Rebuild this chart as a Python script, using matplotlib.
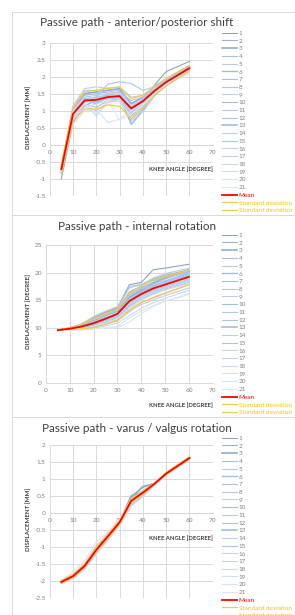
import matplotlib
matplotlib.use("Agg")
import matplotlib.pyplot as plt
from matplotlib.lines import Line2D
from matplotlib.ticker import FormatStrFormatter
import numpy as np

plt.rcParams["font.family"] = ["Lato", "DejaVu Sans"]
plt.rcParams["axes.unicode_minus"] = False

W, H = 295, 615

angles = [5, 10, 15, 20, 25, 30, 35, 40, 45, 50, 60]
series_names = [str(i) for i in range(1, 22)]

# anterior/posterior shift [mm]
ap_series = [
    [-1.0, 0.65, 1.15, 1.3, 1.35, 1.45, 1.0, 1.3, 1.75, 2.15, 2.45],
    [-0.8, 0.95, 1.35, 1.25, 1.4, 1.5, 1.05, 1.35, 1.65, 1.9, 2.3],
    [-0.7, 1.05, 1.5, 1.55, 1.6, 1.65, 1.2, 1.4, 1.6, 1.85, 2.3],
    [-0.75, 0.85, 1.2, 1.1, 1.3, 1.35, 0.95, 1.2, 1.55, 1.8, 2.2],
    [-0.65, 1.1, 1.6, 1.6, 1.5, 1.55, 1.3, 1.4, 1.6, 1.85, 2.25],
    [-0.8, 0.9, 1.25, 1.35, 1.45, 1.4, 0.85, 1.15, 1.5, 1.8, 2.2],
    [-0.7, 1.0, 1.45, 1.5, 1.55, 1.6, 1.1, 1.3, 1.6, 1.9, 2.3],
    [-0.85, 0.8, 1.15, 1.0, 1.25, 1.3, 0.7, 1.05, 1.5, 1.8, 2.2],
    [-0.6, 1.15, 1.65, 1.7, 1.65, 1.7, 1.4, 1.45, 1.65, 1.9, 2.3],
    [-0.75, 0.9, 1.3, 1.4, 1.45, 1.5, 1.05, 1.25, 1.55, 1.85, 2.25],
    [-0.7, 0.95, 1.4, 1.45, 1.5, 1.55, 1.15, 1.35, 1.6, 1.85, 2.25],
    [-0.8, 0.85, 1.25, 1.3, 1.35, 1.4, 0.95, 1.2, 1.5, 1.8, 2.2],
    [-0.65, 1.0, 1.35, 1.2, 1.4, 1.45, 0.6, 1.0, 1.45, 1.75, 2.2],
    [-0.75, 0.9, 1.3, 1.35, 1.5, 1.55, 1.1, 1.3, 1.6, 1.85, 2.25],
    [-0.7, 0.95, 1.35, 1.4, 1.78, 1.85, 1.8, 1.6, 1.7, 1.9, 2.3],
    [-0.8, 0.8, 1.2, 0.85, 1.25, 1.3, 1.0, 0.95, 1.45, 1.75, 2.15],
    [-0.72, 0.9, 1.25, 1.3, 1.35, 1.35, 0.9, 1.15, 1.5, 1.8, 2.2],
    [-0.68, 1.0, 1.4, 1.35, 1.4, 1.5, 1.15, 1.3, 1.55, 1.8, 2.2],
    [-0.78, 0.75, 1.1, 1.2, 1.3, 1.3, 0.8, 1.1, 1.45, 1.75, 2.15],
    [-0.7, 0.6, 1.0, 1.05, 0.65, 0.75, 1.0, 1.2, 1.5, 1.75, 2.1],
    [-0.75, 0.85, 1.2, 0.9, 1.3, 0.72, 0.9, 1.15, 1.5, 1.78, 2.15],
]
ap_mean = [-0.72, 0.9, 1.3, 1.32, 1.4, 1.43, 1.07, 1.28, 1.58, 1.84, 2.25]
ap_sd_hi = [-0.6, 1.08, 1.55, 1.6, 1.66, 1.7, 1.36, 1.45, 1.72, 1.95, 2.33]
ap_sd_lo = [-0.85, 0.7, 1.05, 1.05, 1.17, 1.13, 0.76, 1.1, 1.45, 1.73, 2.17]

# internal rotation [degree]
ir_series = [
    [9.5, 10.0, 10.6, 11.8, 12.8, 13.6, 17.8, 18.2, 20.5, 20.8, 21.5],
    [9.5, 9.9, 10.5, 11.5, 12.4, 13.2, 16.5, 17.5, 18.8, 19.5, 20.5],
    [9.5, 9.9, 10.4, 11.3, 12.2, 13.0, 15.5, 16.8, 18.0, 19.0, 20.2],
    [9.5, 9.8, 10.3, 11.0, 11.8, 12.6, 15.0, 16.5, 17.5, 18.5, 19.8],
    [9.5, 10.0, 10.7, 12.0, 13.0, 13.8, 17.2, 17.8, 19.0, 19.8, 20.8],
    [9.5, 9.9, 10.5, 11.6, 12.5, 13.4, 16.0, 17.2, 18.2, 19.2, 20.5],
    [9.5, 9.8, 10.2, 10.8, 11.6, 12.4, 14.8, 16.2, 17.4, 18.4, 20.0],
    [9.5, 9.9, 10.4, 11.4, 12.3, 13.1, 15.8, 17.0, 17.8, 18.8, 20.3],
    [9.5, 9.7, 10.0, 10.5, 11.2, 12.0, 14.0, 15.5, 16.5, 17.2, 18.5],
    [9.5, 9.8, 10.3, 11.0, 11.8, 12.6, 15.2, 16.6, 17.6, 18.3, 19.6],
    [9.5, 9.7, 10.1, 10.6, 11.3, 12.1, 14.2, 15.8, 16.8, 17.5, 18.8],
    [9.5, 9.9, 10.5, 11.5, 12.5, 13.3, 17.5, 17.8, 18.5, 19.2, 20.0],
    [9.5, 9.8, 10.2, 10.9, 11.7, 12.5, 14.6, 16.0, 17.2, 18.0, 19.4],
    [9.5, 9.6, 9.8, 10.2, 10.8, 11.4, 13.0, 14.2, 15.0, 15.8, 17.2],
    [9.5, 9.7, 10.0, 10.4, 11.0, 11.8, 13.8, 15.2, 16.2, 17.0, 18.2],
    [9.5, 9.6, 9.8, 10.1, 10.6, 11.2, 12.8, 14.5, 15.5, 16.3, 17.8],
    [9.5, 9.7, 10.1, 10.7, 11.4, 12.2, 14.5, 15.6, 16.6, 17.4, 18.6],
    [9.5, 9.6, 9.7, 9.9, 10.3, 10.8, 12.2, 13.5, 14.5, 15.3, 16.8],
    [9.5, 9.6, 9.8, 10.2, 10.9, 11.6, 13.5, 15.0, 16.0, 16.8, 18.0],
    [9.5, 9.5, 9.6, 9.7, 10.0, 10.2, 11.8, 13.0, 14.0, 14.8, 16.0],
    [9.5, 9.6, 9.7, 9.8, 9.9, 10.0, 11.0, 12.5, 13.8, 14.8, 16.2],
]
ir_mean = [9.55, 9.8, 10.2, 10.8, 11.6, 12.5, 14.8, 16.1, 17.1, 17.8, 19.2]
ir_sd_hi = [9.55, 9.95, 10.6, 11.6, 12.5, 13.4, 16.2, 17.6, 18.6, 19.3, 20.4]
ir_sd_lo = [9.55, 9.65, 9.8, 10.0, 10.6, 11.3, 13.2, 14.6, 15.4, 16.2, 17.8]

# varus / valgus rotation [mm]
vv_series = [
    [-2.0, -1.82, -1.52, -1.05, -0.66, -0.25, 0.52, 0.62, 0.86, 1.15, 1.6],
    [-2.02, -1.85, -1.55, -1.1, -0.7, -0.28, 0.5, 0.75, 0.88, 1.16, 1.62],
    [-2.03, -1.86, -1.56, -1.08, -0.68, -0.26, 0.45, 0.78, 0.87, 1.17, 1.61],
    [-2.01, -1.84, -1.54, -1.06, -0.67, -0.27, 0.4, 0.6, 0.85, 1.15, 1.62],
    [-2.04, -1.88, -1.58, -1.12, -0.72, -0.3, 0.35, 0.58, 0.85, 1.14, 1.6],
    [-2.0, -1.83, -1.53, -1.04, -0.65, -0.24, 0.42, 0.65, 0.87, 1.16, 1.63],
    [-2.02, -1.86, -1.57, -1.1, -0.7, -0.29, 0.38, 0.62, 0.86, 1.16, 1.62],
    [-2.05, -1.9, -1.6, -1.15, -0.75, -0.33, 0.3, 0.55, 0.84, 1.13, 1.58],
    [-2.01, -1.84, -1.55, -1.07, -0.68, -0.27, 0.36, 0.6, 0.86, 1.16, 1.62],
    [-2.03, -1.87, -1.58, -1.12, -0.71, -0.3, 0.33, 0.58, 0.85, 1.15, 1.61],
    [-2.0, -1.82, -1.5, -1.0, -0.62, -0.22, 0.4, 0.65, 0.88, 1.18, 1.64],
    [-2.04, -1.88, -1.6, -1.14, -0.74, -0.32, 0.28, 0.54, 0.84, 1.14, 1.6],
    [-2.02, -1.85, -1.55, -1.08, -0.68, -0.26, 0.35, 0.6, 0.86, 1.16, 1.62],
    [-2.03, -1.86, -1.56, -1.1, -0.7, -0.28, 0.32, 0.57, 0.85, 1.15, 1.61],
    [-2.05, -1.9, -1.62, -1.18, -0.78, -0.35, 0.22, 0.5, 0.83, 1.13, 1.59],
    [-2.0, -1.8, -1.48, -0.95, -0.6, -0.2, 0.38, 0.62, 0.87, 1.17, 1.63],
    [-2.04, -1.89, -1.6, -1.15, -0.75, -0.34, 0.25, 0.52, 0.84, 1.14, 1.6],
    [-2.02, -1.84, -1.54, -1.06, -0.67, -0.26, 0.36, 0.6, 0.86, 1.16, 1.62],
    [-2.06, -1.92, -1.64, -1.2, -0.8, -0.36, 0.2, 0.48, 0.82, 1.12, 1.58],
    [-1.98, -1.72, -1.4, -0.85, -0.55, -0.18, 0.4, 0.64, 0.88, 1.18, 1.64],
    [-2.03, -1.86, -1.57, -1.1, -0.7, -0.28, 0.3, 0.56, 0.85, 1.15, 1.61],
]
vv_mean = [-2.02, -1.85, -1.55, -1.08, -0.68, -0.27, 0.36, 0.6, 0.86, 1.16, 1.62]
vv_sd_hi = [-1.98, -1.8, -1.5, -1.0, -0.62, -0.22, 0.42, 0.66, 0.88, 1.19, 1.65]
vv_sd_lo = [-2.06, -1.9, -1.6, -1.14, -0.74, -0.32, 0.3, 0.55, 0.84, 1.13, 1.59]

# blue shades of the individual series (1 .. 21)
blues = ["#8ea5c2", "#9db3cd", "#8badd5", "#a9c0da", "#b6cbe3", "#9fbde0",
         "#a7c3e2", "#b0c8e3", "#bcd1e9", "#a3c0e0", "#b4cce8", "#aac6e6",
         "#9dc0e6", "#b8d0ea", "#a8c6e7", "#c3d6ec", "#bcd2eb", "#c8daee",
         "#cfe0f1", "#d6e4f3", "#dde8f5"]
widths = [0.8, 0.8, 1.2, 0.8, 0.8, 1.0, 0.8, 0.8, 0.8, 0.8, 0.8, 0.8, 1.2,
          0.8, 0.8, 0.8, 0.8, 0.8, 0.8, 0.8, 0.8]

fig = plt.figure(figsize=(W / 100, H / 100), dpi=100)


def fx(px):
    return px / W


def fy(py):
    return 1 - py / H


def panel(top_box, title, ax_box, ylim, ystep, ylabel, series, mean, hi, lo,
          xlab_y, legend_top):
    l, t, r, b = ax_box
    ax = fig.add_axes([fx(l), fy(b), fx(r) - fx(l), fy(t) - fy(b)])
    handles = []
    for s, c, w in zip(series, blues, widths):
        h, = ax.plot(angles, s, color=c, lw=w)
        handles.append(h)
    h_mean, = ax.plot(angles, mean, color="#ff0000", lw=1.3, zorder=5)
    h_hi, = ax.plot(angles, hi, color="#f2c84b", lw=0.9, zorder=4)
    h_lo, = ax.plot(angles, lo, color="#f2c84b", lw=0.9, zorder=4)
    handles += [h_mean, h_hi, h_lo]
    labels = series_names + ["Mean", "Standard deviation", "Standard deviation"]

    ax.set_xlim(0, 70)
    ax.set_ylim(*ylim)
    ax.set_xticks(range(0, 71, 10))
    ax.set_yticks(np.arange(ylim[0], ylim[1] + 0.001, ystep))
    ax.yaxis.set_major_formatter(FormatStrFormatter("%g"))
    ax.grid(True, color="#d9d9d9", lw=0.7)
    ax.set_axisbelow(True)
    for side in ["top", "right", "left"]:
        ax.spines[side].set_visible(False)
    ax.spines["bottom"].set_position(("data", 0))
    ax.spines["bottom"].set_color("#d9d9d9")
    ax.spines["bottom"].set_linewidth(0.7)
    ax.tick_params(length=0, labelsize=4.6, colors="#7f7f7f")
    ax.tick_params(axis="x", pad=3.5)
    ax.tick_params(axis="y", pad=3)

    fig.text(fx(137), fy(top_box + 11), title, ha="center", va="center",
             fontsize=8.4, color="#404040")
    fig.text(fx(28), fy((t + b) / 2 - 2), ylabel, rotation=90, ha="center",
             va="center", fontsize=4.4, fontweight="bold", color="#404040")
    fig.text(fx(r), fy(xlab_y), "KNEE ANGLE [DEGREE]", ha="right",
             va="center", fontsize=4.2, fontweight="bold", color="#404040")

    leg = ax.legend(handles, labels, loc="upper left",
                    bbox_to_anchor=(fx(222), fy(legend_top)),
                    bbox_transform=fig.transFigure, frameon=False,
                    fontsize=4.6, handlelength=2.3, handletextpad=0.3,
                    labelspacing=0.35, borderpad=0, borderaxespad=0)
    for txt, lab in zip(leg.get_texts(), labels):
        if lab == "Mean":
            txt.set_color("#ff0000")
        elif lab.startswith("Standard"):
            txt.set_color("#ffc000")
        else:
            txt.set_color("#7f7f7f")

    # chart area border
    fig.add_artist(Line2D([fx(12), 1], [fy(top_box), fy(top_box)],
                          transform=fig.transFigure, color="#d9d9d9", lw=0.7))
    return ax


panel(12, "Passive path - anterior/posterior shift",
      (49.7, 42.7, 212.7, 195.7), (-1.5, 3), 0.5, "DISPLACEMENT [MM]",
      ap_series, ap_mean, ap_sd_hi, ap_sd_lo, 169, 30.5)
panel(215, "Passive path - internal rotation",
      (46, 245, 212.7, 382.7), (0, 25), 5, "DISPLACEMENT [DEGREE]",
      ir_series, ir_mean, ir_sd_hi, ir_sd_lo, 405, 232.5)
panel(417, "Passive path - varus / valgus rotation",
      (49.7, 445, 212.7, 598.3), (-2.5, 2), 0.5, "DISPLACEMENT [MM]",
      vv_series, vv_mean, vv_sd_hi, vv_sd_lo, 537.7, 435.5)

fig.add_artist(Line2D([fx(12), fx(12)], [fy(12), 0], transform=fig.transFigure,
                      color="#d9d9d9", lw=0.7))

fig.savefig("out.png", dpi=100)
